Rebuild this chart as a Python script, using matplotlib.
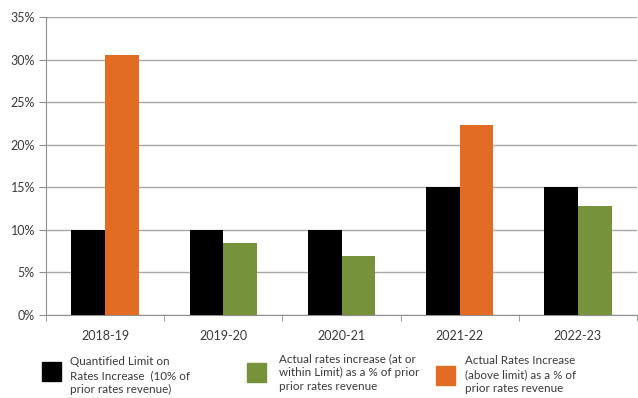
import numpy as np
import matplotlib
matplotlib.use("Agg")
import matplotlib.pyplot as plt
from matplotlib.patches import Rectangle

plt.rcParams['font.family'] = ['Lato', 'DejaVu Sans']

years = ['2018-19', '2019-20', '2020-21', '2021-22', '2022-23']
limit = [10, 10, 10, 15, 15]
within = [np.nan, 8.4, 6.9, np.nan, 12.8]
above = [30.5, np.nan, np.nan, 22.3, np.nan]
yticks = [0, 5, 10, 15, 20, 25, 30, 35]
labels = ['Quantified Limit on\nRates Increase  (10% of\nprior rates revenue)',
          'Actual rates increase (at or\nwithin Limit) as a % of prior\nprior rates revenue',
          'Actual Rates Increase\n(above limit) as a % of\nprior rates revenue']
colors = ['#000000', '#76933C', '#E36C24']

W, H = 638, 398
fig = plt.figure(figsize=(W / 100, H / 100), dpi=100)
ax = fig.add_axes([46 / W, (H - 315) / H, (637 - 46) / W, (315 - 17) / H])

x = np.arange(len(years))
bw = 0.285
ax.bar(x - bw / 2, limit, bw, color=colors[0], zorder=3)
ax.bar(x + bw / 2, within, bw, color=colors[1], zorder=3)
ax.bar(x + bw / 2, above, bw, color=colors[2], zorder=3)

ax.set_xlim(-0.5, len(years) - 0.5)
ax.set_ylim(0, 35)
ax.set_yticks(yticks)
ax.set_yticklabels([f'{v}%' for v in yticks])
ax.set_xticks(x)
ax.set_xticklabels(years)
ax.set_xticks(np.arange(len(years) + 1) - 0.5, minor=True)
ax.tick_params(axis='x', which='major', length=0, pad=11, labelsize=9, labelcolor='#3a3a3a')
ax.tick_params(axis='x', which='minor', length=4, color='#909090')
ax.tick_params(axis='y', length=5, color='#909090', labelsize=9, labelcolor='#3a3a3a', pad=3)
ax.grid(axis='y', color='#a8a8a8', linewidth=1, zorder=0)
for s in ['top', 'right']:
    ax.spines[s].set_visible(False)
ax.spines['left'].set_color('#909090')
ax.spines['bottom'].set_color('#909090')

# legend drawn by hand
patch_x = [42, 247, 436]
patch_y = [362, 363, 366]
text_x = [70, 279, 465]
text_y = [356, 353, 355]
for px, py, tx, ty, lab, c in zip(patch_x, patch_y, text_x, text_y, labels, colors):
    fig.add_artist(Rectangle((px / W, 1 - (py + 19) / H), 19 / W, 19 / H,
                             transform=fig.transFigure, color=c))
    fig.text(tx / W, 1 - ty / H, lab, ha='left', va='top', fontsize=8.4,
             color='#3a3a3a', linespacing=1.35)

fig.savefig('out.png', dpi=100)
